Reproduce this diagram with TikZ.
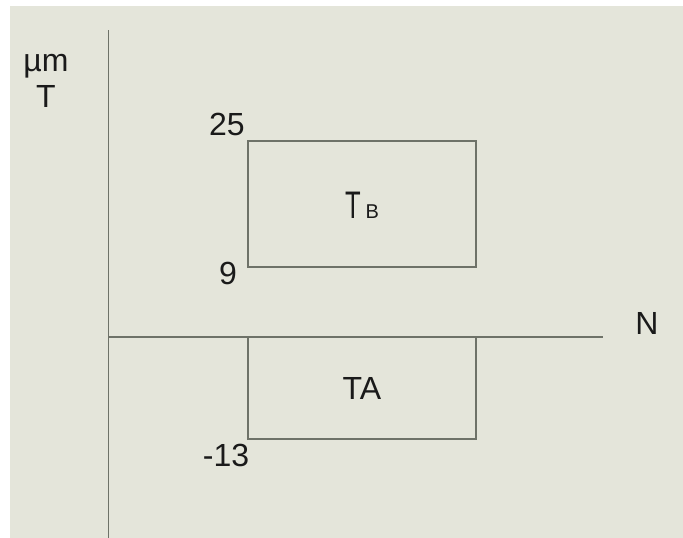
\documentclass[tikz,border=0pt]{standalone}
\usepackage{fontspec}
\usepackage{graphicx}
\setmainfont{Liberation Sans}
\definecolor{bg}{HTML}{E4E5DA}
\definecolor{ln}{HTML}{6E7268}
\definecolor{tx}{HTML}{1A1A1A}
\begin{document}
\begin{tikzpicture}[x=1pt,y=-1pt,
  axis/.style={draw=ln,line width=1.3pt},
  boxln/.style={draw=ln,line width=1.1pt},
  lbl/.style={text=tx,font=\fontsize{32}{34}\selectfont,inner sep=0pt}]
\useasboundingbox (0,0) rectangle (683,538);
\fill[white] (0,0) rectangle (683,538);
\fill[bg] (10,6) rectangle (683,538);
% axes
\coordinate (ytop) at (108.5,30);
\coordinate (ybot) at (108.5,538);
\coordinate (xl) at (108.5,337);
\coordinate (xr) at (603,337);
\draw[axis] (ytop) -- (ybot);
\draw[axis] (xl) -- (xr);
% boxes
\node[boxln,minimum width=228pt,minimum height=126pt,inner sep=0pt] (TB) at (362,204) {};
\draw[boxln] (248,337) -- (248,439) -- (476,439) -- (476,337);
\coordinate (TA) at (362,388);
% labels
\node[lbl,anchor=base] (TBl) at (362,218) {\scalebox{0.8}[1.2]{T}\hspace{5pt}\fontsize{20}{21}\selectfont B};
\node[lbl] (TAl) at (TA) {TA};
\node[lbl] (n25) at (227,124) {25};
\node[lbl] (n9) at (228,273) {9};
\node[lbl] (n13) at (226,455) {-13};
\node[lbl] (N) at (647,323) {N};
\node[lbl] (um) at (46,66) {µm};
\node[lbl] (T) at (46,96) {T};
\end{tikzpicture}
\end{document}
